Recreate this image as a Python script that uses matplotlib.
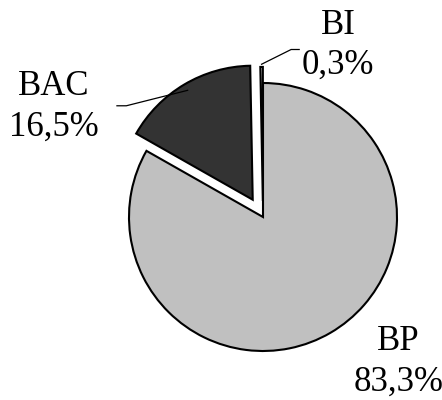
import matplotlib.pyplot as plt
import numpy as np

# slice data (counter-clockwise from the top)
labels = ['BI', 'BAC', 'BP']
values = [0.3, 16.5, 83.3]
pct_text = ['0,3%', '16,5%', '83,3%']
colors = ['#ffffff', '#333333', '#c0c0c0']
explode = [0.12, 0.15, 0.0]

plt.rcParams['font.family'] = ['Liberation Serif', 'DejaVu Serif']

fig = plt.figure(figsize=(4.42, 4.00), dpi=100)
ax = fig.add_axes([0, 0, 1, 1])

wedges, _ = ax.pie(values, colors=colors, explode=explode, startangle=90,
                   counterclock=True, normalize=True,
                   wedgeprops=dict(edgecolor='black', linewidth=1.5))

# pixel-based layout: center at (263, 217) px, radius 134 px
s = 134.0
ax.set_xlim(-263 / s, (442 - 263) / s)
ax.set_ylim(-(400 - 217) / s, 217 / s)
ax.set_aspect('equal')
ax.axis('off')

# label positions (data units)
text_pos = {'BI': (0.56, 1.28), 'BAC': (-1.56, 0.82), 'BP': (1.01, -1.08)}
for lab, pct in zip(labels, pct_text):
    ax.text(*text_pos[lab], f'{lab}\n{pct}', ha='center', va='center',
            fontsize=25, linespacing=1.3)

# leader lines for the small slices
def leader(w, r, knee, end):
    th = np.deg2rad((w.theta1 + w.theta2) / 2)
    cx, cy = w.center
    tip = (cx + r * np.cos(th), cy + r * np.sin(th))
    ax.plot([tip[0], knee[0], end[0]], [tip[1], knee[1], end[1]],
            color='black', lw=0.9)

leader(wedges[0], 1.02, (0.21, 1.25), (0.27, 1.25))
leader(wedges[1], 0.95, (-1.02, 0.83), (-1.09, 0.83))

fig.savefig('out.png', dpi=100)
